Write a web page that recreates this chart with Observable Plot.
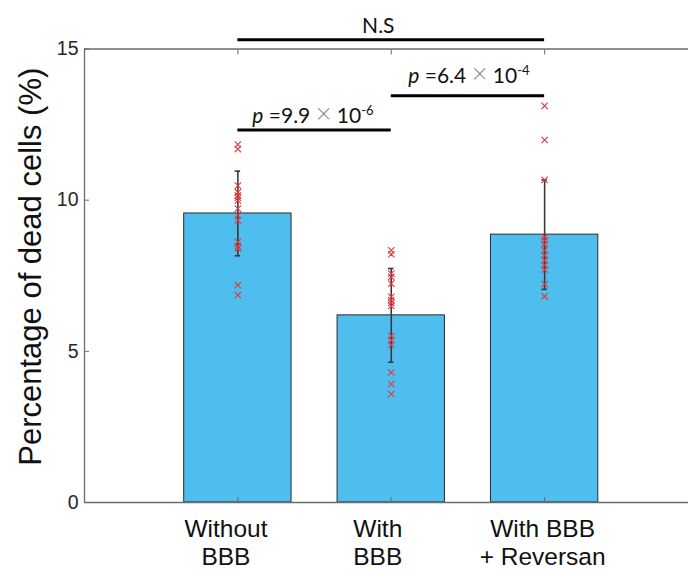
<!DOCTYPE html>
<html>
<head>
<meta charset="utf-8">
<script src="https://cdn.jsdelivr.net/npm/d3@7"></script>
<script src="https://cdn.jsdelivr.net/npm/@observablehq/plot@0.6"></script>
<style>
  html, body { margin: 0; padding: 0; background: #fff; overflow: hidden; }
  #chart svg { overflow: hidden; }
</style>
</head>
<body>
<div id="chart"></div>
<script>
// ---- data ----
const categories = ["Without\nBBB", "With\nBBB", "With BBB\n+ Reversan"];
const positions = [1, 2, 3];
const labelPositions = [0.922, 1.912, 2.987];
const means = [9.56, 6.19, 8.86];
const sds = [1.40, 1.55, 1.81];
const pointsWithout = [11.84, 11.69, 10.48, 10.26, 10.15, 10.08, 9.99, 9.72, 9.50, 9.33, 8.62, 8.47, 8.40, 7.19, 6.86];
const pointsWith = [8.34, 8.21, 7.57, 7.46, 7.24, 6.80, 6.69, 6.60, 6.50, 5.51, 5.37, 5.21, 4.30, 3.92, 3.59];
const pointsReversan = [13.12, 11.99, 10.67, 8.78, 8.67, 8.54, 8.34, 8.18, 8.01, 7.85, 7.70, 7.22, 6.82];
const yTicks = [0, 5, 10, 15];
const sigFrom = [1, 1, 2];
const sigTo = [3, 2, 3];
const sigLineY = [15.31, 12.32, 13.45];
const sigLabels = ["N.S", "p =9.9 × 10-6", "p =6.4 × 10-4"];
const sigLabelX = [1.81, 1.094, 2.111];
const sigLabelY = [15.52, 12.56, 13.88];
const sigLabelSize = [21, 21, 21];

// ---- tables built from arrays ----
const bars = positions.map((p, i) => ({pos: p, mean: means[i], sd: sds[i]}));
const pts = [pointsWithout, pointsWith, pointsReversan]
  .flatMap((arr, i) => arr.map(v => ({pos: positions[i], v})));
const sig = sigLabels.map((l, i) => ({from: sigFrom[i], to: sigTo[i], y: sigLineY[i], label: l, lx: sigLabelX[i], ly: sigLabelY[i], size: sigLabelSize[i]}));
const xLabels = categories.map((c, i) => ({label: c, lx: labelPositions[i]}));

const halfW = 0.35;
const capW = 0.018;
const axisColor = "#6b6b6b";

const plot = Plot.plot({
  width: 688,
  height: 570,
  marginLeft: 84,
  marginRight: 0,
  marginTop: 48.5,
  marginBottom: 68,
  style: {fontFamily: "Arial, 'Liberation Sans', sans-serif", background: "#fff"},
  x: {type: "linear", domain: [0, 4], range: [84, 697.5]},
  y: {domain: [0, 15]},
  marks: [
    Plot.rectY(bars, {x1: d => d.pos - halfW, x2: d => d.pos + halfW, y1: 0, y2: "mean", fill: "#4DBEEE", stroke: "#2b2b2b", strokeWidth: 1}),
    // box lines
    Plot.ruleY([0, 15], {stroke: axisColor, strokeWidth: 1.3}),
    Plot.ruleX([0], {stroke: axisColor, strokeWidth: 1.3}),
    // inward ticks
    Plot.axisX({anchor: "bottom", ticks: positions, tickSize: -5, tickFormat: () => "", stroke: axisColor, color: axisColor}),
    Plot.axisX({anchor: "top", ticks: positions, tickSize: -5, tickFormat: () => "", stroke: axisColor, color: axisColor}),
    Plot.axisY({anchor: "left", ticks: yTicks, tickSize: -5, tickFormat: () => "", stroke: axisColor}),
    // tick labels
    Plot.axisY({anchor: "left", ticks: yTicks, tickSize: 0, tickPadding: 6, fontSize: 19.5, fill: "#262626", tickFormat: d => String(d)}),
    Plot.text(xLabels, {x: "lx", text: "label", frameAnchor: "bottom", lineAnchor: "top", dy: 15, fontSize: 24.5, lineHeight: 1.14, fill: "#111"}),
    // y label
    Plot.text(["Percentage of dead cells (%)"], {frameAnchor: "left", textAnchor: "middle", dx: -53, dy: -9, rotate: -90, fontSize: 31, fill: "#111", text: d => d}),
    // error bars
    Plot.ruleX(bars, {x: "pos", y1: d => d.mean - d.sd, y2: d => d.mean + d.sd, stroke: "#3a3a3a", strokeWidth: 1.6}),
    Plot.ruleY(bars, {x1: d => d.pos - capW, x2: d => d.pos + capW, y: d => d.mean + d.sd, stroke: "#3a3a3a", strokeWidth: 1.6}),
    Plot.ruleY(bars, {x1: d => d.pos - capW, x2: d => d.pos + capW, y: d => d.mean - d.sd, stroke: "#3a3a3a", strokeWidth: 1.6}),
    // data points
    Plot.dot(pts, {x: "pos", y: "v", symbol: "times", r: 3, stroke: "#e0393e", strokeWidth: 1.1}),
    // significance
    Plot.ruleY(sig, {x1: "from", x2: "to", y: "y", stroke: "#000", strokeWidth: 3}),
    Plot.text(sig, {x: "lx", y: "ly", text: "label", textAnchor: "start", lineAnchor: "bottom", fontSize: "size", fill: "#111",
      fontFamily: "Lato, 'Open Sans', sans-serif"})
  ]
});

// rich text for p-values
d3.select(plot).selectAll("text").each(function() {
  const t = this.textContent;
  if (t.startsWith("p =")) {
    const m = t.match(/^p =(\S+) × 10(\S+)$/);
    const sel = d3.select(this);
    sel.text("");
    sel.append("tspan").attr("font-style", "italic").text("p");
    sel.append("tspan").text(" =" + m[1] + " ");
    sel.append("tspan").attr("fill", "#888").attr("font-size", "1.3em").attr("font-weight", 300).text("×");
    sel.append("tspan").text(" 10");
    sel.append("tspan").attr("font-size", "0.62em").attr("dy", "-0.62em").text(m[2]);
  }
});

document.getElementById("chart").appendChild(plot);
</script>
</body>
</html>
